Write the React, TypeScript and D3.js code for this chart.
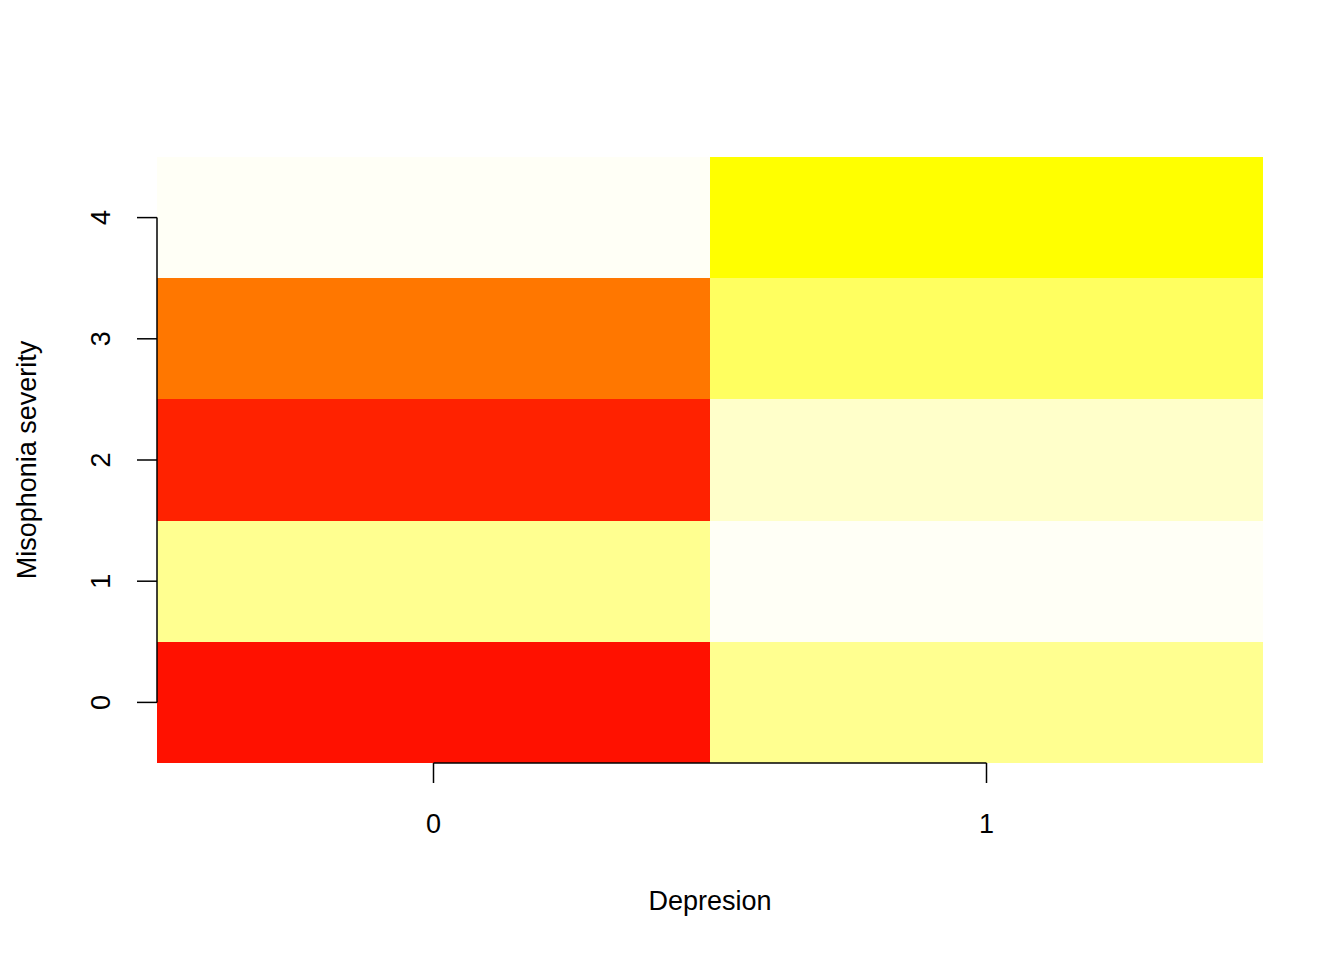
import React from 'react';
import * as d3 from 'd3';

const depression = ['0', '1'];
const severity = ['0', '1', '2', '3', '4'];
// fill per cell, [depression][severity]
const cellFill = [
  ['#FF1100', '#FFFF90', '#FF2200', '#FF7700', '#FFFFF6'],
  ['#FFFF90', '#FFFFF6', '#FFFFCA', '#FFFF60', '#FFFF00'],
];

const W = 1344, H = 960;
const left = 157, right = 1263, top = 157, bottom = 763;

export default function App() {
  const x = d3.scaleLinear().domain([-0.5, 1.5]).range([left, right]);
  const y = d3.scaleLinear().domain([-0.5, 4.5]).range([bottom, top]);
  const font = 'Liberation Sans, Arial, sans-serif';
  return (
    <svg width={W} height={H} style={{ display: 'block', margin: -8 }} fontFamily={font}>
      <rect width={W} height={H} fill="#fff" />
      {depression.map((d, i) =>
        severity.map((s, j) => (
          <rect key={`${i}-${j}`} x={x(i - 0.5)} y={y(j + 0.5)}
            width={x(i + 0.5) - x(i - 0.5)} height={y(j - 0.5) - y(j + 0.5)}
            fill={cellFill[i][j]} shapeRendering="crispEdges" />
        ))
      )}
      <line x1={x(0)} x2={x(1)} y1={bottom} y2={bottom} stroke="#000" strokeWidth={1.5} />
      {depression.map((d, i) => (
        <g key={d}>
          <line x1={x(i)} x2={x(i)} y1={bottom} y2={bottom + 20} stroke="#000" strokeWidth={1.5} />
          <text x={x(i)} y={833} fontSize={27} textAnchor="middle">{d}</text>
        </g>
      ))}
      <line x1={left} x2={left} y1={y(0)} y2={y(4)} stroke="#000" strokeWidth={1.5} />
      {severity.map((s, j) => (
        <g key={s}>
          <line x1={left} x2={left - 20} y1={y(j)} y2={y(j)} stroke="#000" strokeWidth={1.5} />
          <text transform={`translate(110,${y(j)}) rotate(-90)`} fontSize={27} textAnchor="middle">{s}</text>
        </g>
      ))}
      <text x={(left + right) / 2} y={910} fontSize={27} textAnchor="middle">Depresion</text>
      <text transform={`translate(36,${(top + bottom) / 2}) rotate(-90)`} fontSize={27} textAnchor="middle">Misophonia severity</text>
    </svg>
  );
}
